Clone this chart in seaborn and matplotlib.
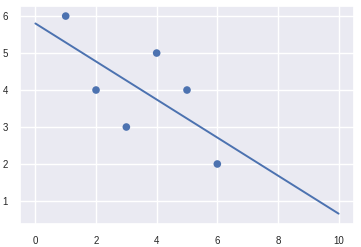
import numpy as np
import matplotlib
matplotlib.use("Agg")
import matplotlib.pyplot as plt
import seaborn as sns

x_points = [1, 2, 3, 4, 5, 6]
y_points = [6, 4, 3, 5, 4, 2]
line_x = [0, 10]

sns.set_theme(style="darkgrid")
plt.rcParams['font.family'] = ['Liberation Sans', 'DejaVu Sans']

fig = plt.figure(figsize=(3.61, 2.47), dpi=100)
ax = fig.add_axes([0.056, 0.095, 0.924, 0.88])

slope, intercept = np.polyfit(x_points, y_points, 1)
lx = np.array(line_x, dtype=float)
ly = slope * lx + intercept

sns.scatterplot(x=x_points, y=y_points, ax=ax, s=30, color="#4c72b0", edgecolor="none")
sns.lineplot(x=lx, y=ly, ax=ax, color="#4c72b0", linewidth=1.4)

ax.tick_params(labelsize=7, pad=3)
ax.set_xticks([0, 2, 4, 6, 8, 10])
ax.set_yticks([1, 2, 3, 4, 5, 6])

fig.savefig("out.png", dpi=100)
